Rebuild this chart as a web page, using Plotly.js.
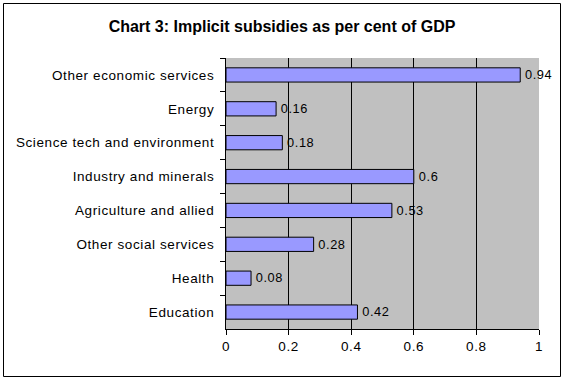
<!DOCTYPE html>
<html>
<head>
<meta charset="utf-8">
<script src="https://cdn.plot.ly/plotly-3.0.1.min.js"></script>
<style>
html,body{margin:0;padding:0;background:#fff;}
#chart{width:564px;height:380px;}
#chart .ytick text, #chart .xtick text, #chart .bartext {letter-spacing:0.6px;}
</style>
</head>
<body>
<div id="chart"></div>
<script>
// Data (top-to-bottom order as shown)
var categories = ["Other economic services", "Energy", "Science tech and environment", "Industry and minerals", "Agriculture and allied", "Other social services", "Health", "Education"];
var values = [0.94, 0.16, 0.18, 0.6, 0.53, 0.28, 0.08, 0.42];
var valueLabels = ["0.94", "0.16", "0.18", "0.6", "0.53", "0.28", "0.08", "0.42"];
var xTickVals = [0, 0.2, 0.4, 0.6, 0.8, 1];
var xTickText = ["0", "0.2", "0.4", "0.6", "0.8", "1"];

var W = 564, H = 380;
var m = {l: 226, r: 25, t: 58, b: 51};
var pw = W - m.l - m.r, ph = H - m.t - m.b;
function px(x){ return (x - m.l) / pw; }
function py(y){ return 1 - (y - m.t) / ph; }

var font = "Arial, 'Liberation Sans', sans-serif";

var trace = {
  type: "bar",
  orientation: "h",
  y: categories,
  x: values,
  text: valueLabels,
  textposition: "outside",
  cliponaxis: false,
  textfont: {family: font, size: 13.5, color: "#000"},
  marker: {color: "#9999FF", line: {color: "#000", width: 1}},
  width: 0.42,
  hoverinfo: "none"
};

var layout = {
  width: W, height: H,
  margin: m,
  paper_bgcolor: "#fff",
  plot_bgcolor: "#C0C0C0",
  showlegend: false,
  font: {family: font, size: 13.5, color: "#000"},
  title: {
    text: "<b>Chart 3: Implicit subsidies as per cent of GDP</b>",
    font: {family: font, size: 16, color: "#000"},
    x: 0.5, xref: "container", xanchor: "center",
    y: 1 - 26 / H, yref: "container", yanchor: "middle"
  },
  xaxis: {
    range: [0, 1],
    tickvals: xTickVals,
    ticktext: xTickText,
    showgrid: true, gridcolor: "#000", gridwidth: 1,
    zeroline: false,
    showline: true, linecolor: "#000", linewidth: 1,
    ticks: "outside", ticklen: 5, tickcolor: "#000",
    tickfont: {family: font, size: 13.5, color: "#000"},
    fixedrange: true
  },
  yaxis: {
    type: "category",
    autorange: "reversed",
    showgrid: false, zeroline: false,
    showline: true, linecolor: "#000", linewidth: 1,
    ticks: "outside", ticklen: 5, tickcolor: "#000",
    tickson: "boundaries",
    tickfont: {family: font, size: 13.5, color: "#000"},
    ticklabelstandoff: 8,
    fixedrange: true
  },
  shapes: [
    {type: "rect", xref: "paper", yref: "paper",
     x0: px(3.5), x1: px(560.5), y0: py(376.5), y1: py(3.5),
     line: {color: "#000", width: 1}, fillcolor: "rgba(0,0,0,0)", layer: "below"}
  ]
};

Plotly.newPlot("chart", [trace], layout, {staticPlot: true, displayModeBar: false}).then(function(gd){
  var ts = gd.querySelectorAll(".bartext");
  for (var i = 0; i < ts.length; i++) ts[i].setAttribute("dx", "3");
});
</script>
</body>
</html>
